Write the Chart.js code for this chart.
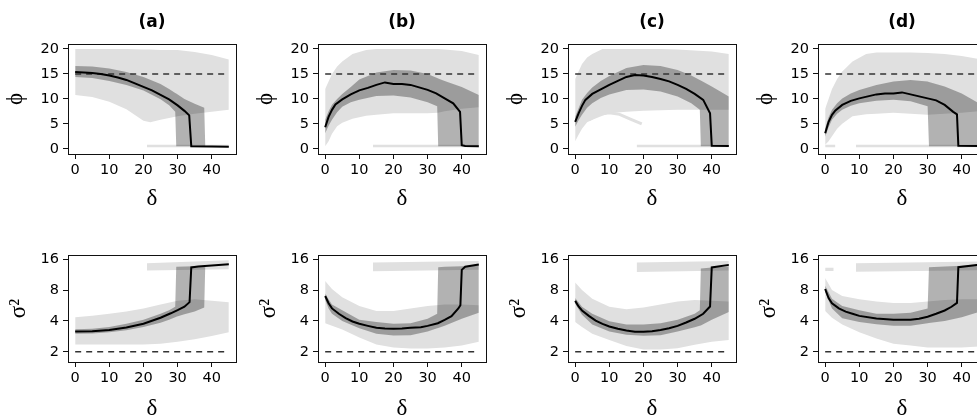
<!DOCTYPE html>
<html>
<head>
<meta charset="utf-8">
<script src="https://cdn.jsdelivr.net/npm/chart.js@4.4.1/dist/chart.umd.min.js"></script>
<style>
  html, body { margin: 0; padding: 0; background: #fff; }
  #wrap { position: relative; width: 977px; height: 420px; overflow: hidden; }
  #wrap canvas { position: absolute; }
</style>
</head>
<body>
<div id="wrap"></div>
<script>
// axis ticks and reference values
const deltaTicks = [0, 10, 20, 30, 40];
const phiTicks = [0, 5, 10, 15, 20];
const sigmaTicks = [2, 4, 8, 16];
const deltaSpan = [0, 45];
const truePhi = 15;
const trueSigma2 = 2;

// median curves: [delta, value]
// bands and clouds: [delta, low, high]

// (a)
const aPhiMedian = [[0,15.4],[2.5,15.3],[5,15.2],[7.5,15.0],[10,14.7],[12.5,14.3],[15,13.8],[17.5,13.1],[20,12.4],[22.5,11.7],[25,10.8],[27.5,9.9],[30,8.7],[32,7.6],[33.4,6.7],[34,0.5],[40,0.45],[45,0.4]];
const aPhiBand = [[0,14.4,16.6],[5,14.2,16.5],[10,13.6,16.1],[15,12.8,15.4],[20,11.7,14.4],[25,9.9,13.0],[27.5,8.7,12.0],[29.3,7.4,11.2],[29.6,0.5,11.1],[32,0.5,10.0],[35,0.5,9.0],[37.8,0.5,8.2],[38.1,0.5,0.5],[45,0.5,0.5]];
const aPhiCloud = [[0,10.8,20],[5,10.4,20],[10,9.4,20],[15,7.9,20],[20,5.6,19.9],[22,5.3,19.9],[25,5.8,19.8],[30,6.5,19.8],[35,7.0,19.4],[40,7.4,18.8],[45,7.8,17.9]];
const aPhiStrip = [[21,0.3,0.8],[45,0.3,0.8]];
const aSigMedian = [[0,3.16],[5,3.18],[10,3.26],[15,3.45],[20,3.75],[25,4.3],[28,4.75],[30,5.1],[32,5.5],[33.5,6.1],[34,13.3],[36,13.6],[40,13.9],[45,14.3]];
const aSigBand = [[0,3.0,3.32],[5,3.02,3.36],[10,3.1,3.5],[15,3.25,3.75],[20,3.5,4.1],[25,3.85,4.7],[27.5,4.1,5.1],[29.3,4.35,5.5],[29.6,4.4,13.5],[32,4.65,13.6],[35,4.95,13.7],[37.8,5.4,13.8],[38.1,13.9,13.9],[45,14.4,14.4]];
const aSigCloud = [[0,2.35,4.35],[5,2.35,4.5],[10,2.35,4.7],[15,2.35,4.95],[20,2.35,5.3],[25,2.4,5.8],[30,2.5,6.3],[35,2.65,6.5],[40,2.85,6.3],[45,3.1,6.1]];
const aSigStrip = [[21,12.4,14.6],[45,12.8,15.6]];

// (b)
const bPhiMedian = [[0,4.3],[1,6.4],[2,7.8],[3,8.9],[5,9.9],[7.5,10.9],[10,11.7],[12.5,12.2],[15,12.8],[17.5,13.3],[20,13.0],[22.5,13.0],[25,12.8],[27.5,12.3],[30,11.8],[32.5,11.1],[35,10.1],[37.5,9.1],[39.5,7.4],[40,0.7],[41,0.55],[45,0.5]];
const bPhiBand = [[0,3.1,5.8],[1,4.6,7.5],[2,5.8,8.8],[3.5,7.3,10.0],[5,8.4,11.0],[7.5,9.3,12.4],[10,9.8,13.9],[15,10.6,15.3],[20,10.7,15.8],[25,10.3,15.7],[30,9.3,15.0],[32.8,8.5,14.2],[33.1,0.5,14.1],[35,0.5,13.6],[40,0.5,12.4],[45,0.5,10.8]];
const bPhiCloud = [[0,0.5,12],[1,1.5,13.5],[2,3,15],[3.5,4.5,16.5],[5,5.2,17.5],[8,6,19],[12,6.6,19.8],[15,6.8,20],[20,7.1,20],[25,7.1,20],[30,7.1,20],[33,7.2,20],[35,7.5,19.9],[40,8,19.6],[45,8.3,18.8]];
const bPhiStrip = [[14,0.3,0.8],[45,0.3,0.8]];
const bSigMedian = [[0,7.0],[1,5.96],[2,5.3],[4,4.7],[6,4.26],[8,3.95],[10,3.75],[12.5,3.58],[15,3.43],[17.5,3.37],[20,3.35],[22.5,3.37],[25,3.43],[28,3.48],[30,3.58],[33,3.8],[35,4.1],[37,4.45],[39,5.3],[39.6,5.7],[40,12.6],[41,13.5],[45,14.2]];
const bSigBand = [[0,6.4,7.4],[1,5.3,6.5],[2,4.7,5.8],[5,4.0,5.1],[10,3.4,4.1],[15,3.0,3.9],[20,2.88,3.75],[25,2.9,3.8],[30,3.16,4.2],[32.8,3.4,4.7],[33.1,3.42,13.4],[35,3.6,13.5],[40,4.2,13.7],[45,4.8,14.0]];
const bSigCloud = [[0,3.8,9.8],[2,3.6,8.2],[5,3.3,6.8],[10,2.75,5.6],[15,2.35,5.0],[20,2.2,5.0],[25,2.15,5.3],[30,2.15,5.6],[35,2.2,5.8],[40,2.3,5.8],[45,2.5,5.7]];
const bSigStrip = [[14,12.2,14.9],[45,12.6,15.4]];

// (c)
const cPhiMedian = [[0,5.4],[1,7.1],[2,8.6],[3,9.8],[5,11.0],[7.5,11.9],[10,12.8],[12.5,13.6],[15,14.4],[17.5,14.8],[20,14.7],[22.5,14.4],[25,14.0],[27.5,13.5],[30,12.8],[32.5,12.0],[35,11.0],[37.5,9.8],[39.5,7.1],[40,0.6],[45,0.55]];
const cPhiBand = [[0,4.4,6.4],[1,5.7,8.1],[2,6.8,9.8],[3.5,8.2,11.2],[5,9.1,12.3],[7.5,10.2,13.6],[10,10.9,14.6],[15,11.8,16.2],[20,11.9,16.8],[25,11.5,16.6],[30,10.5,15.8],[34,9.1,14.7],[36.5,7.8,13.8],[36.8,0.5,13.7],[40,0.5,12.5],[45,0.5,10.5]];
const cPhiCloud = [[0,1.5,14],[1,2.8,15.5],[2,4,17],[3.5,5.3,18.3],[5,5.8,19],[8,6.6,20],[10,7.1,20],[15,7.4,20],[20,7.6,20],[25,7.7,20],[30,7.8,19.9],[35,7.8,19.7],[40,7.8,19.5],[45,7.8,19]];
const cPhiStrip = [[18,0.3,0.8],[45,0.3,0.8]];
const cPhiArc = [[4,5.8],[7,6.9],[10,7.2],[13,6.9],[16,6.0],[19.5,5.0]];
const cSigMedian = [[0,6.28],[1,5.53],[2,5.06],[4,4.48],[6,4.03],[8,3.75],[10,3.53],[12.5,3.35],[15,3.22],[17.5,3.13],[20,3.13],[22.5,3.18],[25,3.27],[27.5,3.39],[30,3.58],[32.5,3.86],[35,4.2],[37.5,4.7],[39.5,5.53],[40,13.3],[45,14.1]];
const cSigBand = [[0,5.9,6.7],[2,4.6,5.5],[5,3.7,4.7],[10,3.16,3.97],[15,2.93,3.7],[20,2.86,3.7],[25,2.9,3.8],[30,3.16,4.1],[35,3.48,4.7],[36.5,3.6,5.1],[36.8,3.62,13.0],[40,4.1,13.3],[45,4.9,13.7]];
const cSigCloud = [[0,3.9,9.5],[2,3.5,8],[5,3.0,6.6],[10,2.6,5.5],[15,2.28,5.2],[20,2.1,5.4],[25,2.1,5.8],[30,2.17,6.2],[35,2.34,6.4],[40,2.5,6.3],[45,2.6,6.2]];
const cSigStrip = [[18,12.0,14.9],[45,12.4,15.4]];

// (d)
const dPhiMedian = [[0,3.1],[1,5.4],[2,6.8],[3,7.7],[5,8.8],[7.5,9.6],[10,10.1],[12.5,10.5],[15,10.9],[17.5,11.1],[20,11.1],[22.5,11.3],[25,10.9],[27.5,10.5],[30,10.1],[32.5,9.7],[35,8.8],[37.5,7.4],[38.6,6.9],[39,0.6],[45,0.55]];
const dPhiBand = [[0,2.4,4.1],[1,4.3,6.3],[2,5.8,7.8],[3.5,7.0,9.1],[5,7.8,10.1],[7.5,8.6,11.1],[10,9.1,11.8],[15,9.6,12.8],[20,9.8,13.5],[25,9.5,13.8],[30,8.5,13.5],[30.4,0.5,13.4],[35,0.5,12.5],[40,0.5,11.1],[45,0.5,9.1]];
const dPhiCloud = [[0,0.8,8],[1,1.5,10],[2,2.5,12],[3.5,4,14],[5,5,15.5],[8,6.5,17.5],[12,6.9,19],[15,7,19.3],[20,7.2,19.3],[25,7.0,19.3],[30,6.8,19.2],[35,7,19],[40,7.2,18.6],[45,7.5,18]];
const dPhiStrip = [[9,0.3,0.8],[45,0.3,0.8]];
const dPhiStub = [[0,0.3,0.8],[3,0.3,0.8]];
const dSigMedian = [[0,8.2],[1,6.7],[2,5.96],[4,5.3],[6,4.93],[8,4.7],[10,4.48],[15,4.23],[20,4.1],[25,4.1],[27.5,4.2],[30,4.4],[32.5,4.7],[35,5.06],[37,5.5],[38.6,6.0],[39,13.4],[45,14.1]];
const dSigBand = [[0,7.6,8.8],[2,5.3,6.6],[5,4.26,5.6],[10,3.9,5.1],[15,3.72,4.7],[20,3.6,4.7],[25,3.6,4.8],[30,3.8,5.3],[30.4,3.82,13.4],[35,4.0,13.6],[40,4.35,13.8],[45,4.9,14.0]];
const dSigCloud = [[0,5,10.5],[2,4.3,8],[5,3.7,7],[10,3.1,6.5],[15,2.7,6.2],[20,2.4,6.0],[25,2.3,6.0],[30,2.2,6.2],[35,2.2,6.4],[40,2.2,6.5],[45,2.25,6.5]];
const dSigStrip = [[9,12.1,14.6],[45,12.5,15.2]];
const dSigStub = [[0,12.3,13.2],[2.5,12.3,13.2]];

const panels = [
  { label: '(a)', phi: { median: aPhiMedian, band: aPhiBand, clouds: [aPhiCloud, aPhiStrip], arcs: [] },
                  sig: { median: aSigMedian, band: aSigBand, clouds: [aSigCloud, aSigStrip], arcs: [] } },
  { label: '(b)', phi: { median: bPhiMedian, band: bPhiBand, clouds: [bPhiCloud, bPhiStrip], arcs: [] },
                  sig: { median: bSigMedian, band: bSigBand, clouds: [bSigCloud, bSigStrip], arcs: [] } },
  { label: '(c)', phi: { median: cPhiMedian, band: cPhiBand, clouds: [cPhiCloud, cPhiStrip], arcs: [cPhiArc] },
                  sig: { median: cSigMedian, band: cSigBand, clouds: [cSigCloud, cSigStrip], arcs: [] } },
  { label: '(d)', phi: { median: dPhiMedian, band: dPhiBand, clouds: [dPhiCloud, dPhiStrip, dPhiStub], arcs: [] },
                  sig: { median: dSigMedian, band: dSigBand, clouds: [dSigCloud, dSigStrip, dSigStub], arcs: [] } },
];

const cloudGray = '#e0e0e0';
const bandFill = 'rgba(0, 0, 0, 0.3)';
const ink = '#000';
const tickFont = { family: '"DejaVu Sans", Verdana, sans-serif', size: 14.5 };
const greekFont = { family: '"Liberation Serif", "Times New Roman", serif', size: 23, lineHeight: 1 };

const pts = (rows, col) => rows.map(r => ({ x: r[0], y: r[col] }));
const hidden = { borderColor: 'transparent', borderWidth: 0 };

// frame round the plotting region
const panelBox = {
  id: 'panelBox',
  afterDatasetsDraw(chart) {
    const { ctx, chartArea: a } = chart;
    ctx.save();
    ctx.strokeStyle = '#111';
    ctx.lineWidth = 1;
    ctx.strokeRect(Math.round(a.left) + 0.5, Math.round(a.top) + 0.5,
      Math.round(a.right - a.left), Math.round(a.bottom - a.top));
    ctx.restore();
  }
};

// "(a)" etc, centred over the plotting region
const panelTitle = {
  id: 'panelTitle',
  afterDraw(chart, args, opts) {
    if (!opts.text) return;
    const { ctx, chartArea: a } = chart;
    ctx.save();
    ctx.font = 'bold 17px "DejaVu Sans", Verdana, sans-serif';
    ctx.fillStyle = ink;
    ctx.textAlign = 'center';
    ctx.textBaseline = 'middle';
    ctx.fillText(opts.text, (a.left + a.right) / 2, opts.y);
    ctx.restore();
  }
};

function buildDatasets(s, trueValue) {
  const ds = [];
  ds.push({ data: pts(s.median, 1), borderColor: '#000', borderWidth: 2 });
  ds.push({ data: deltaSpan.map(x => ({ x, y: trueValue })), borderColor: '#333', borderWidth: 1.6, borderDash: [6, 5] });
  ds.push({ data: pts(s.band, 2), ...hidden, backgroundColor: bandFill, fill: '+1' });
  ds.push({ data: pts(s.band, 1), ...hidden });
  s.arcs.forEach(arc => ds.push({ data: pts(arc, 1), borderColor: cloudGray, borderWidth: 3 }));
  s.clouds.forEach(c => {
    ds.push({ data: pts(c, 2), ...hidden, backgroundColor: cloudGray, fill: '+1' });
    ds.push({ data: pts(c, 1), ...hidden });
  });
  return ds;
}

function makeChart(canvas, opts) {
  const yScale = opts.top
    ? { type: 'linear', min: -1.05, max: 21.0, ticksList: phiTicks, title: 'ϕ', titlePad: 4 }
    : { type: 'logarithmic', min: 1.59, max: 17.6, ticksList: sigmaTicks, title: 'σ²', titlePad: 7 };

  return new Chart(canvas, {
    type: 'line',
    data: { datasets: buildDatasets(opts.series, opts.top ? truePhi : trueSigma2) },
    plugins: [panelBox, panelTitle],
    options: {
      responsive: false,
      animation: false,
      events: [],
      layout: { padding: { top: opts.top ? 44 : 45, right: 14, left: 0, bottom: 0 } },
      elements: { point: { radius: 0 }, line: { tension: 0 } },
      plugins: {
        legend: { display: false },
        tooltip: { enabled: false },
        panelTitle: { text: opts.top ? opts.label : '', y: 23 },
      },
      scales: {
        x: {
          type: 'linear', min: -2.1, max: 47.1,
          afterBuildTicks: s => { s.ticks = deltaTicks.map(v => ({ value: v })); },
          afterFit: s => { s.height = opts.top ? 56 : 58; },
          grid: { drawOnChartArea: false, drawTicks: true, tickLength: 5, tickColor: '#111' },
          border: { display: false },
          ticks: { color: ink, font: tickFont, padding: 3, maxRotation: 0, autoSkip: false },
          title: { display: true, text: 'δ', color: ink, font: greekFont, padding: 0 },
        },
        y: {
          type: yScale.type, min: yScale.min, max: yScale.max,
          afterBuildTicks: s => { s.ticks = yScale.ticksList.map(v => ({ value: v })); },
          afterFit: s => { s.width = 68; },
          grid: { drawOnChartArea: false, drawTicks: true, tickLength: 5, tickColor: '#111' },
          border: { display: false },
          ticks: { color: ink, font: tickFont, padding: 4, autoSkip: false, callback: v => String(v) },
          title: { display: true, text: yScale.title, color: ink, font: greekFont, padding: { top: yScale.titlePad, bottom: 0 } },
        },
      },
    },
  });
}

const wrap = document.getElementById('wrap');
panels.forEach((p, i) => {
  [true, false].forEach(top => {
    const canvas = document.createElement('canvas');
    canvas.width = 250;
    canvas.height = 210;
    canvas.style.left = (i * 250) + 'px';
    canvas.style.top = (top ? 0 : 210) + 'px';
    wrap.appendChild(canvas);
    makeChart(canvas, { top, label: p.label, series: top ? p.phi : p.sig });
  });
});
</script>
</body>
</html>
